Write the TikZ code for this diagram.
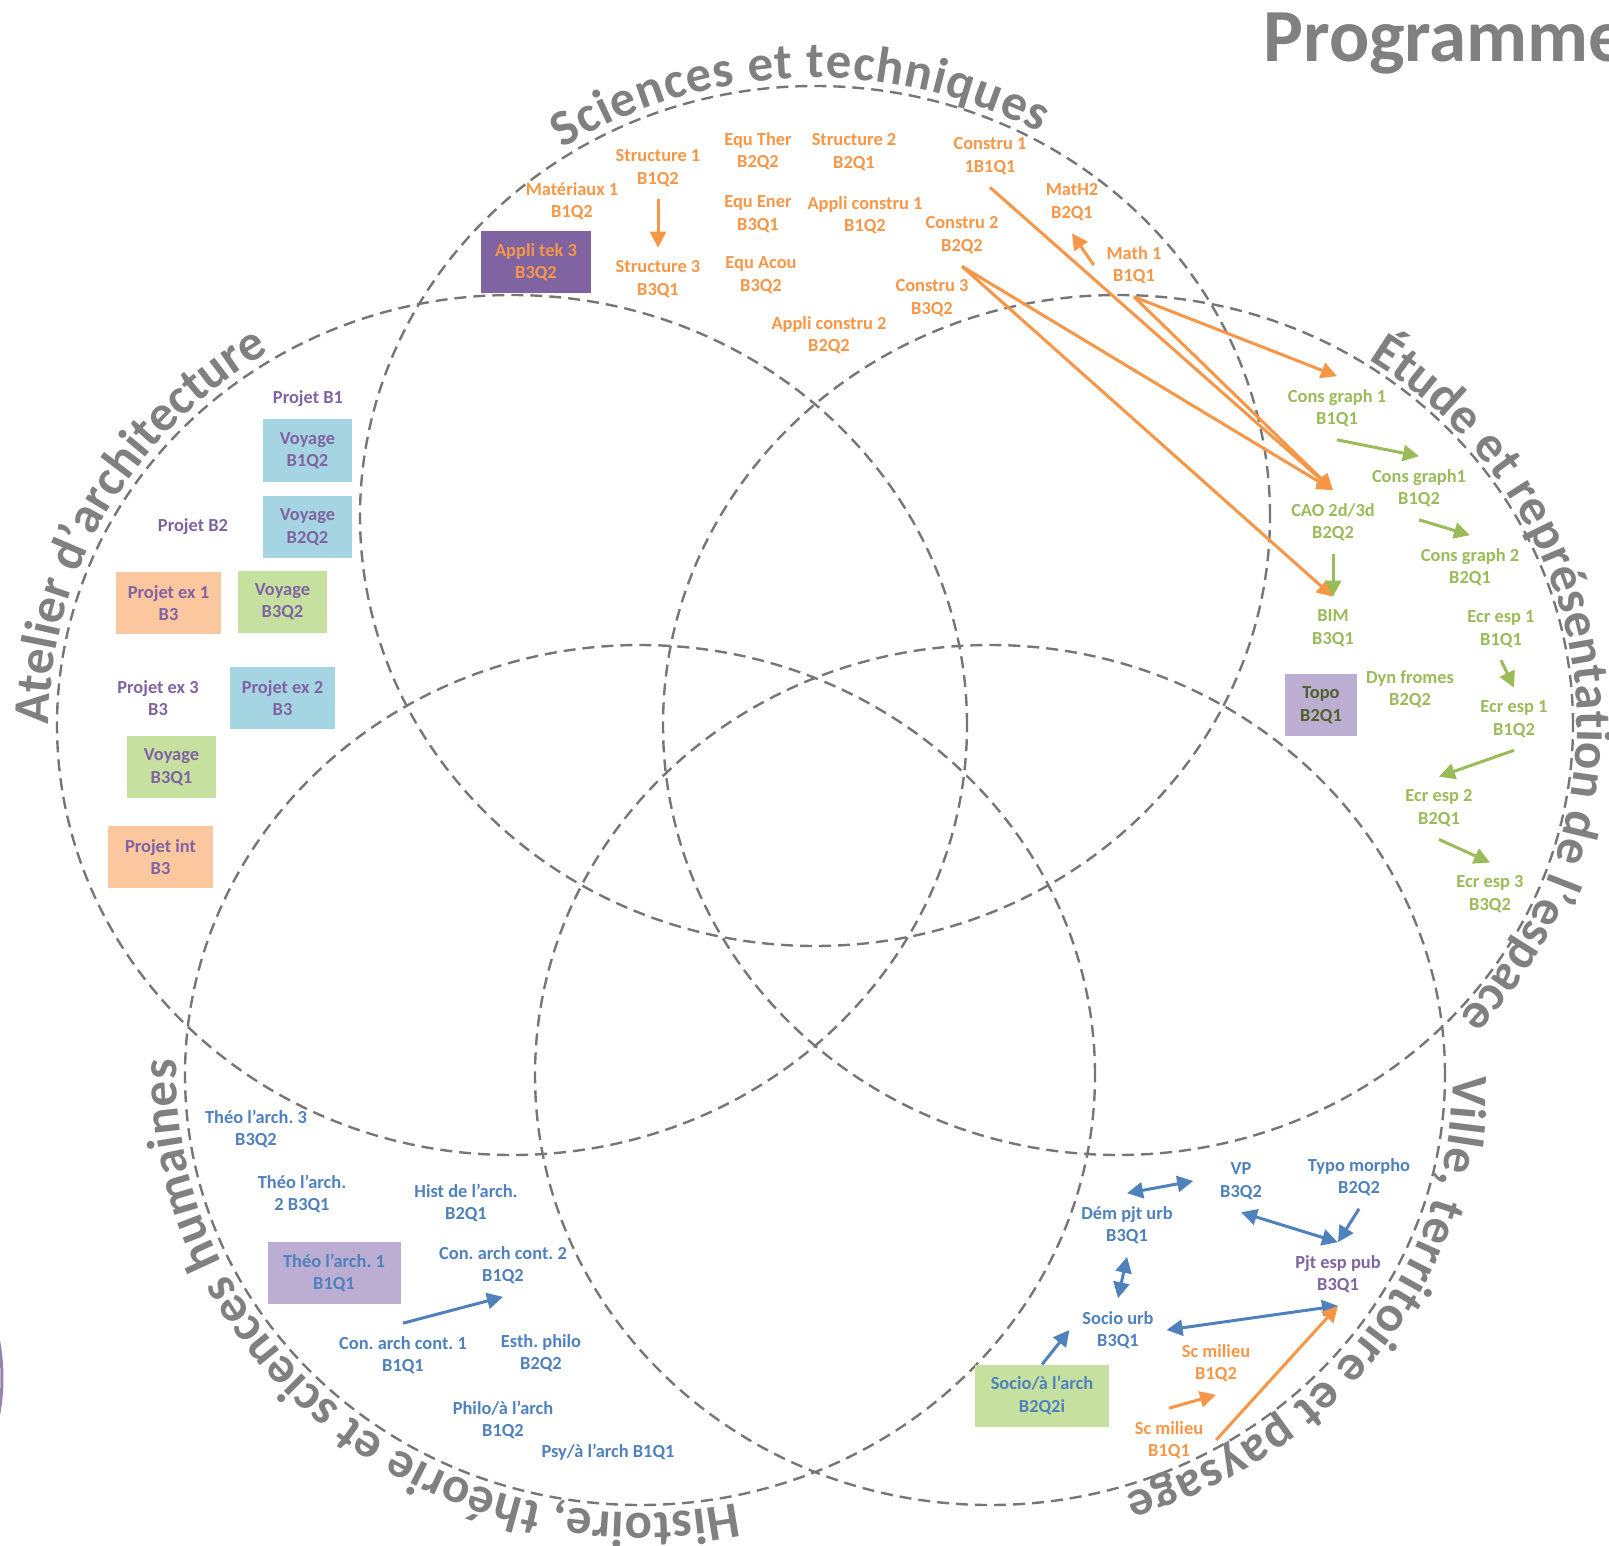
\documentclass[tikz,border=0pt]{standalone}
\usepackage{fontspec}
\setmainfont{Carlito}
\usepackage{tikz}
\usetikzlibrary{arrows.meta, decorations.text}
\definecolor{orangecolor}{RGB}{247,150,70}
\definecolor{greencolor}{RGB}{155,187,89}
\definecolor{bluecolor}{RGB}{79,129,189}
\definecolor{purplecolor}{RGB}{128,100,162}
\definecolor{greycolor}{RGB}{128,128,128}
\definecolor{dashcolor}{RGB}{118,118,118}
\definecolor{olivecolor}{RGB}{79,98,40}
\definecolor{boxblue}{RGB}{165,212,226}
\definecolor{boxgreen}{RGB}{198,224,159}
\definecolor{boxorange}{RGB}{250,199,158}
\definecolor{boxlilac}{RGB}{188,174,210}
\definecolor{arccolor}{RGB}{150,132,176}
\frenchspacing

\begin{document}
\begin{tikzpicture}[x=0.5pt, y=0.5pt,
    lbl/.style={font=\fontsize{9.2}{11.2}\selectfont\bfseries, align=center, inner sep=0pt, outer sep=6.5pt},
    sci/.style={lbl, text=orangecolor},
    rep/.style={lbl, text=greencolor},
    hum/.style={lbl, text=bluecolor},
    atl/.style={lbl, text=purplecolor},
    box/.style={outer sep=0pt, minimum height=31pt, minimum width=#1},
    venn/.style={dashcolor, line width=1.2pt, dash pattern=on 6pt off 3.5pt},
    arr/.style={line width=1.5pt, -{Triangle[length=8pt,width=8pt]}},
    darr/.style={line width=1.5pt, {Triangle[length=8pt,width=8pt]}-{Triangle[length=8pt,width=8pt]}},
    title/.style={decorate, decoration={text along path, text align={fit to path}, text color=greycolor,
        text={|\fontsize{25.5}{30}\selectfont\bfseries|#1}}}
  ]
  \useasboundingbox (0,0) rectangle (1609,-1545);

  \draw[venn] (815,-516) ellipse[x radius=455, y radius=430];
  \draw[venn] (512,-725) ellipse[x radius=455, y radius=430];
  \draw[venn] (1118,-725) ellipse[x radius=455, y radius=430];
  \draw[venn] (640,-1075) ellipse[x radius=455, y radius=430];
  \draw[venn] (990,-1075) ellipse[x radius=455, y radius=430];

  \path[title={Sciences et techniques}] (815,-516) ++(123:463 and 438)
    arc[start angle=123, end angle=61, x radius=463, y radius=438];
  \path[title={Atelier d’architecture}] (512,-725) ++(180:463 and 438)
    arc[start angle=180, end angle=122, x radius=463, y radius=438];
  \path[title={Étude et représentation de l’espace}] (1118,-725) ++(57:459 and 436)
    arc[start angle=57, end angle=-42, x radius=459, y radius=436];
  \path[title={Ville, territoire et paysage}] (990,-1075) ++(0:463 and 438)
    arc[start angle=0, end angle=-73, x radius=463, y radius=438];
  \path[title={Histoire, théorie et sciences humaines}] (640,-1075) ++(-78:463 and 438)
    arc[start angle=-78, end angle=-182, x radius=463, y radius=438];

  \node[anchor=base west, inner sep=0pt, text=greycolor, font=\fontsize{37.5}{40}\selectfont\bfseries] (prog) at (1263,-62) {Programme};
  \draw[arccolor, line width=1.5pt] (-200,-1378) circle[radius=202];

  \node[sci] (mat1) at (572,-201) {Matériaux 1\\B1Q2};
  \node[sci] (str1) at (658,-168) {Structure 1\\B1Q2};
  \node[sci] (str3) at (658,-279) {Structure 3\\B3Q1};
  \node[sci] (equther) at (758,-151) {Equ Ther\\B2Q2};
  \node[sci] (str2) at (854,-152) {Structure 2\\B2Q1};
  \node[sci] (equener) at (758,-214) {Equ Ener\\B3Q1};
  \node[sci] (appc1) at (865,-215) {Appli constru 1\\B1Q2};
  \node[sci] (equacou) at (761,-275) {Equ Acou\\B3Q2};
  \node[sci] (appc2) at (829,-335) {Appli constru 2\\B2Q2};
  \node[sci] (con1) at (990,-156) {Constru 1\\1B1Q1};
  \node[sci] (con2) at (962,-235) {Constru 2\\B2Q2};
  \node[sci] (con3) at (932,-298) {Constru 3\\B3Q2};
  \node[sci] (math2) at (1072,-202) {MatH2\\B2Q1};
  \node[sci] (math1) at (1134,-265) {Math 1\\B1Q1};
  \node[sci, box=55pt, fill=purplecolor] (apptek3) at (536,-262.5) {Appli tek 3\\B3Q2};

  \node[rep] (cg1) at (1337,-408) {Cons graph 1\\B1Q1};
  \node[rep] (cg1b) at (1419,-488) {Cons graph1\\B1Q2};
  \node[rep] (cg2) at (1470,-567) {Cons graph 2\\B2Q1};
  \node[rep] (cao) at (1333,-522) {CAO 2d/3d\\B2Q2};
  \node[rep] (bim) at (1333,-628) {BIM\\B3Q1};
  \node[rep] (ee1) at (1501,-629) {Ecr esp 1\\B1Q1};
  \node[rep] (ee1b) at (1514,-719) {Ecr esp 1\\B1Q2};
  \node[rep] (ee2) at (1439,-808) {Ecr esp 2\\B2Q1};
  \node[rep] (ee3) at (1490,-894) {Ecr esp 3\\B3Q2};
  \node[rep] (dyn) at (1410,-689) {Dyn fromes\\B2Q2};
  \node[rep, box=36pt, fill=boxlilac, text=olivecolor] (topo) at (1321,-705) {Topo\\B2Q1};

  \node[atl] (pb1) at (308,-399) {Projet B1};
  \node[atl] (pb2) at (193,-527) {Projet B2};
  \node[atl] (pex3) at (158,-698) {Projet ex 3\\B3};
  \node[atl, box=44.5pt, fill=boxblue] (voy1) at (307.5,-450.5) {Voyage\\B1Q2};
  \node[atl, box=44.5pt, fill=boxblue] (voy2) at (307.5,-527) {Voyage\\B2Q2};
  \node[atl, box=52.5pt, fill=boxorange] (pex1) at (168.5,-603) {Projet ex 1\\B3};
  \node[atl, box=44.5pt, fill=boxgreen] (voy3b) at (282.5,-601.5) {Voyage\\B3Q2};
  \node[atl, box=52.5pt, fill=boxblue] (pex2) at (282.5,-698) {Projet ex 2\\B3};
  \node[atl, box=44.5pt, fill=boxgreen] (voy3a) at (171.5,-767) {Voyage\\B3Q1};
  \node[atl, box=52.5pt, fill=boxorange] (pint) at (160.5,-857) {Projet int\\B3};

  \node[hum] (theo3) at (256,-1129) {Théo l’arch. 3\\B3Q2};
  \node[hum] (theo2) at (302,-1194) {Théo l’arch.\\2 B3Q1};
  \node[hum] (hist) at (466,-1203) {Hist de l’arch.\\B2Q1};
  \node[hum, box=66.5pt, fill=boxlilac] (theo1) at (334,-1273) {Théo l’arch. 1\\B1Q1};
  \node[hum] (cac2) at (503,-1265) {Con. arch cont. 2\\B1Q2};
  \node[hum] (cac1) at (403,-1355) {Con. arch cont. 1\\B1Q1};
  \node[hum] (esth) at (541,-1353) {Esth. philo\\B2Q2};
  \node[hum] (philo) at (503,-1420) {Philo/à l’arch\\B1Q2};
  \node[hum] (psy) at (608,-1452) {Psy/à l’arch B1Q1};

  \node[hum] (vp) at (1241,-1181) {VP\\B3Q2};
  \node[hum] (typo) at (1359,-1177) {Typo morpho\\B2Q2};
  \node[hum] (dem) at (1127,-1225) {Dém pjt urb\\B3Q1};
  \node[atl] (pjt) at (1338,-1274) {Pjt esp pub\\B3Q1};
  \node[hum] (socio) at (1118,-1330) {Socio urb\\B3Q1};
  \node[sci] (scm2) at (1216,-1363) {Sc milieu\\B1Q2};
  \node[sci] (scm1) at (1169,-1440) {Sc milieu\\B1Q1};
  \node[hum, box=67pt, fill=boxgreen] (socarch) at (1042,-1395.5) {Socio/à l’arch\\B2Q2i};

  \draw[arr, orangecolor] (str1.south) -- (str3.north);
  \draw[arr, orangecolor] (math1.west) -- (math2.south);
  \draw[arr, orangecolor] (math1.south) -- (cg1.north);
  \draw[arr, orangecolor] (math1.south) -- (cao.north);
  \draw[arr, orangecolor] (con1.south) -- (cao.north);
  \draw[arr, orangecolor] (con2.south) -- (cao.north);
  \draw[arr, orangecolor] (con2.south) -- (bim.north);

  \draw[arr, greencolor] (cg1.south) -- (cg1b.north);
  \draw[arr, greencolor] (cg1b.south) -- (cg2.north);
  \draw[arr, greencolor] (cao.south) -- (bim.north);
  \draw[arr, greencolor] (ee1.south) -- (ee1b.north);
  \draw[arr, greencolor] (ee1b.south) -- (ee2.north);
  \draw[arr, greencolor] (ee2.south) -- (ee3.north);

  \draw[arr, bluecolor] (cac1.north) -- (cac2.south);
  \draw[darr, bluecolor] (dem.north) -- ([xshift=-7pt]vp.west);
  \draw[darr, bluecolor] (vp.south) -- (pjt.north);
  \draw[arr, bluecolor] (typo.south) -- (pjt.north);
  \draw[darr, bluecolor] (dem.south) -- (socio.north);
  \draw[darr, bluecolor] (socio.east) -- (pjt.south);
  \draw[arr, bluecolor] (socarch.north) -- (socio.west);

  \draw[arr, orangecolor] (scm1.north) -- (scm2.south);
  \draw[arr, orangecolor] (scm1.east) -- (pjt.south);
\end{tikzpicture}
\end{document}
